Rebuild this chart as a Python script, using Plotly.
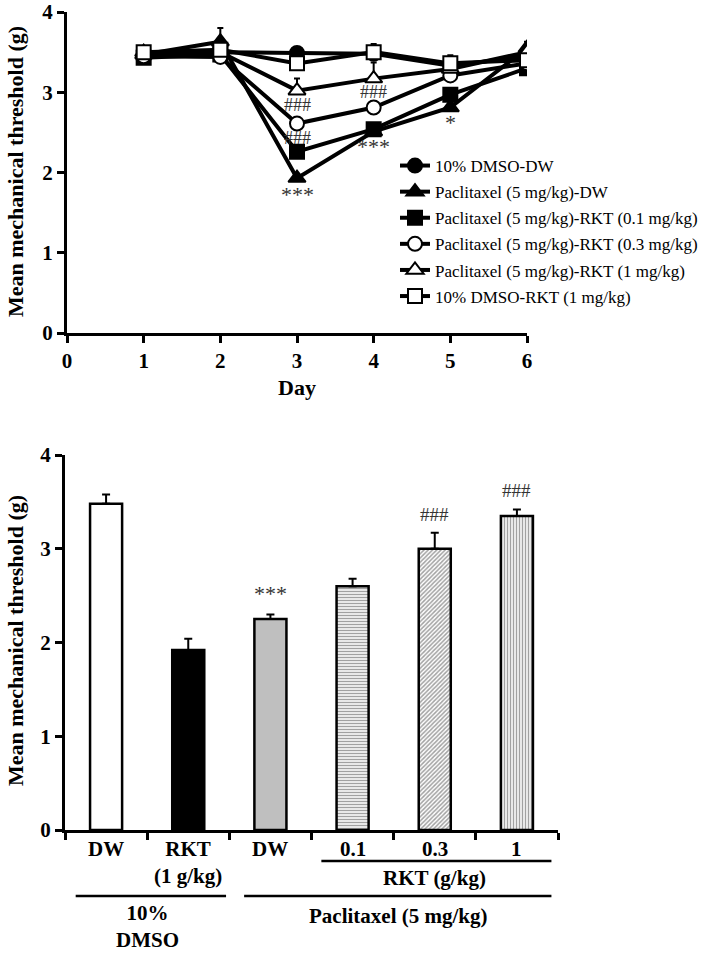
import plotly.graph_objects as go

# ---------------- data: time course (top) ----------------
days = [1, 2, 3, 4, 5, 6]
series_names = [
    "10% DMSO-DW",
    "Paclitaxel (5 mg/kg)-DW",
    "Paclitaxel (5 mg/kg)-RKT (0.1 mg/kg)",
    "Paclitaxel (5 mg/kg)-RKT (0.3 mg/kg)",
    "Paclitaxel (5 mg/kg)-RKT (1 mg/kg)",
    "10% DMSO-RKT (1 mg/kg)",
]
dmso_dw = [3.45, 3.50, 3.49, 3.48, 3.33, 3.45]
pac_dw = [3.47, 3.63, 1.93, 2.51, 2.81, 3.55]
pac_rkt01 = [3.43, 3.47, 2.26, 2.54, 2.97, 3.30]
pac_rkt03 = [3.45, 3.44, 2.61, 2.81, 3.21, 3.36]
pac_rkt1 = [3.50, 3.50, 3.02, 3.17, 3.29, 3.50]
dmso_rkt = [3.50, 3.53, 3.36, 3.50, 3.36, 3.40]

dmso_dw_err = [0.05, 0.05, 0.07, 0.05, 0.05, 0.05]
pac_dw_err = [0.05, 0.17, 0.05, 0.05, 0.05, 0.08]
pac_rkt01_err = [0.04, 0.04, 0.04, 0.04, 0.04, 0.04]
pac_rkt03_err = [0.04, 0.04, 0.04, 0.04, 0.04, 0.04]
pac_rkt1_err = [0.05, 0.05, 0.15, 0.20, 0.05, 0.05]
dmso_rkt_err = [0.07, 0.05, 0.05, 0.10, 0.10, 0.05]

top_marks_text = ["***", "###", "###", "###", "***", "*"]
top_marks_day = [3, 3, 3, 4, 4, 5]
top_marks_y = [1.72, 2.43, 2.84, 3.00, 2.32, 2.62]

# ---------------- data: day-3 bars (bottom) ----------------
bar_labels = ["DW", "RKT<br>(1 g/kg)", "DW", "0.1", "0.3", "1"]
bar_values = [3.48, 1.92, 2.25, 2.60, 3.00, 3.35]
bar_err = [0.10, 0.12, 0.05, 0.08, 0.17, 0.07]
bar_marks = ["", "", "***", "", "###", "###"]

FONT = "Liberation Serif"
W, H = 710, 954


def py(px):
    return (H - px) / H


fig = go.Figure()

styles = [
    dict(symbol="circle", color="black", size=14),
    dict(symbol="triangle-up", color="black", size=15),
    dict(symbol="square", color="black", size=14),
    dict(symbol="circle", color="white", size=14),
    dict(symbol="triangle-up", color="white", size=15),
    dict(symbol="square", color="white", size=14),
]
all_y = [dmso_dw, pac_dw, pac_rkt01, pac_rkt03, pac_rkt1, dmso_rkt]
all_e = [dmso_dw_err, pac_dw_err, pac_rkt01_err, pac_rkt03_err, pac_rkt1_err, dmso_rkt_err]

for i, (name, ys, es, st) in enumerate(zip(series_names, all_y, all_e, styles)):
    fig.add_trace(go.Scatter(
        x=days, y=ys, name=name, mode="lines+markers",
        line=dict(color="black", width=4),
        marker=dict(symbol=st["symbol"], size=st["size"], color=st["color"],
                    line=dict(color="black", width=2)),
        error_y=dict(type="data", array=es, arrayminus=[0] * len(es), symmetric=False,
                     color="black", thickness=2, width=3),
        xaxis="x", yaxis="y", legendgroup=f"g{i}",
    ))

for t, d, yv in zip(top_marks_text, top_marks_day, top_marks_y):
    fig.add_annotation(x=d, y=yv, xref="x", yref="y", text=t, showarrow=False,
                       xanchor="center", yanchor="middle",
                       font=dict(family=FONT, size=22 if "*" in t else 18, color="#333"))

# bottom bars
x_idx = list(range(len(bar_values)))
fig.add_trace(go.Bar(
    x=x_idx, y=bar_values, width=0.39,
    marker=dict(
        color=["white", "black", "#bfbfbf", "white", "white", "white"],
        line=dict(color="black", width=2.5),
        pattern=dict(shape=["", "", "", "-", "/", "|"],
                     fgcolor=["black", "black", "black", "#666", "#333", "#444"],
                     bgcolor="white", size=3, solidity=0.5, fillmode="overlay"),
    ),
    error_y=dict(type="data", array=bar_err, arrayminus=[0] * len(bar_err), symmetric=False,
                 color="black", thickness=2, width=4),
    xaxis="x2", yaxis="y2", showlegend=False,
))

for xi, (m, v, e) in enumerate(zip(bar_marks, bar_values, bar_err)):
    if m:
        fig.add_annotation(x=xi, y=v + e, xref="x2", yref="y2", text=m, showarrow=False,
                           xanchor="center", yanchor="bottom", yshift=6,
                           font=dict(family=FONT, size=22 if "*" in m else 19, color="#333"))

lab_font = dict(family=FONT, size=21, color="black")

# category labels under the bar axis
for xi, lab in enumerate(bar_labels):
    fig.add_annotation(x=xi, y=py(835), xref="x2", yref="paper", text="<b>%s</b>" % lab,
                       showarrow=False, xanchor="center", yanchor="top", font=lab_font)

# group lines and labels under bottom axis
line_style = dict(color="black", width=2.5)
fig.add_shape(type="line", xref="x2", yref="paper", x0=2.62, x1=5.42, y0=py(861), y1=py(861), line=line_style)
fig.add_shape(type="line", xref="x2", yref="paper", x0=-0.37, x1=1.46, y0=py(896), y1=py(896), line=line_style)
fig.add_shape(type="line", xref="x2", yref="paper", x0=1.68, x1=5.42, y0=py(896), y1=py(896), line=line_style)

fig.add_annotation(x=4, y=py(878), xref="x2", yref="paper", text="<b>RKT (g/kg)</b>",
                   showarrow=False, xanchor="center", yanchor="middle", font=lab_font)
fig.add_annotation(x=0.5, y=py(926), xref="x2", yref="paper", text="<b>10%<br>DMSO</b>",
                   showarrow=False, xanchor="center", yanchor="middle", font=lab_font)
fig.add_annotation(x=3.55, y=py(916), xref="x2", yref="paper", text="<b>Paclitaxel (5 mg/kg)</b>",
                   showarrow=False, xanchor="center", yanchor="middle", font=lab_font)

# axis titles
title_font = dict(family=FONT, size=22, color="black")
fig.add_annotation(x=15 / W, y=py(172), xref="paper", yref="paper", textangle=-90,
                   xanchor="center", yanchor="middle",
                   text="<b>Mean mechanical threshold (g)</b>", showarrow=False, font=title_font)
fig.add_annotation(x=15 / W, y=py(641), xref="paper", yref="paper", textangle=-90,
                   xanchor="center", yanchor="middle",
                   text="<b>Mean mechanical threshold (g)</b>", showarrow=False, font=title_font)
fig.add_annotation(x=3, y=py(387), xref="x", yref="paper", text="<b>Day</b>",
                   xanchor="center", yanchor="middle",
                   showarrow=False, font=title_font)

tickfont = dict(family=FONT, size=21, color="black")
axis_common = dict(showline=True, linewidth=3, linecolor="black", ticks="outside",
                   tickwidth=3, ticklen=7, tickcolor="black", showgrid=False, zeroline=False,
                   automargin=False, tickfont=tickfont, ticklabeloverflow="allow")

fig.update_layout(
    template="none",
    width=W, height=H,
    margin=dict(l=0, r=0, t=0, b=0),
    paper_bgcolor="white", plot_bgcolor="white",
    font=dict(family=FONT, color="black"),
    xaxis=dict(domain=[67 / W, 527 / W], range=[0, 6], anchor="y",
               tickvals=[0, 1, 2, 3, 4, 5, 6], ticktext=["<b>%d</b>" % v for v in range(7)],
               ticklabelstandoff=0, **axis_common),
    yaxis=dict(domain=[py(333), py(12)], range=[0, 4], anchor="x",
               tickvals=[0, 1, 2, 3, 4], ticktext=["<b>%d</b>" % v for v in range(5)],
               ticklabelstandoff=0, **axis_common),
    xaxis2=dict(domain=[65 / W, 558 / W], range=[-0.5, 5.5], anchor="y2",
                tickvals=[-0.5, 0.5, 1.5, 2.5, 3.5, 4.5, 5.5], showticklabels=False,
                **axis_common),
    yaxis2=dict(domain=[py(830), py(455)], range=[0, 4], anchor="x2",
                tickvals=[0, 1, 2, 3, 4], ticktext=["<b>%d</b>" % v for v in range(5)],
                ticklabelstandoff=0, **axis_common),
    legend=dict(x=395 / W, y=py(148), xanchor="left", yanchor="top",
                font=dict(family=FONT, size=17, color="black"),
                bgcolor="rgba(0,0,0,0)", traceorder="grouped", tracegroupgap=1,
                itemwidth=30),
    bargap=0.6,
    showlegend=True,
)

fig.write_html("out.html", config={"displayModeBar": False},
               post_script="document.body.style.margin='0px';document.body.style.padding='0px';")
